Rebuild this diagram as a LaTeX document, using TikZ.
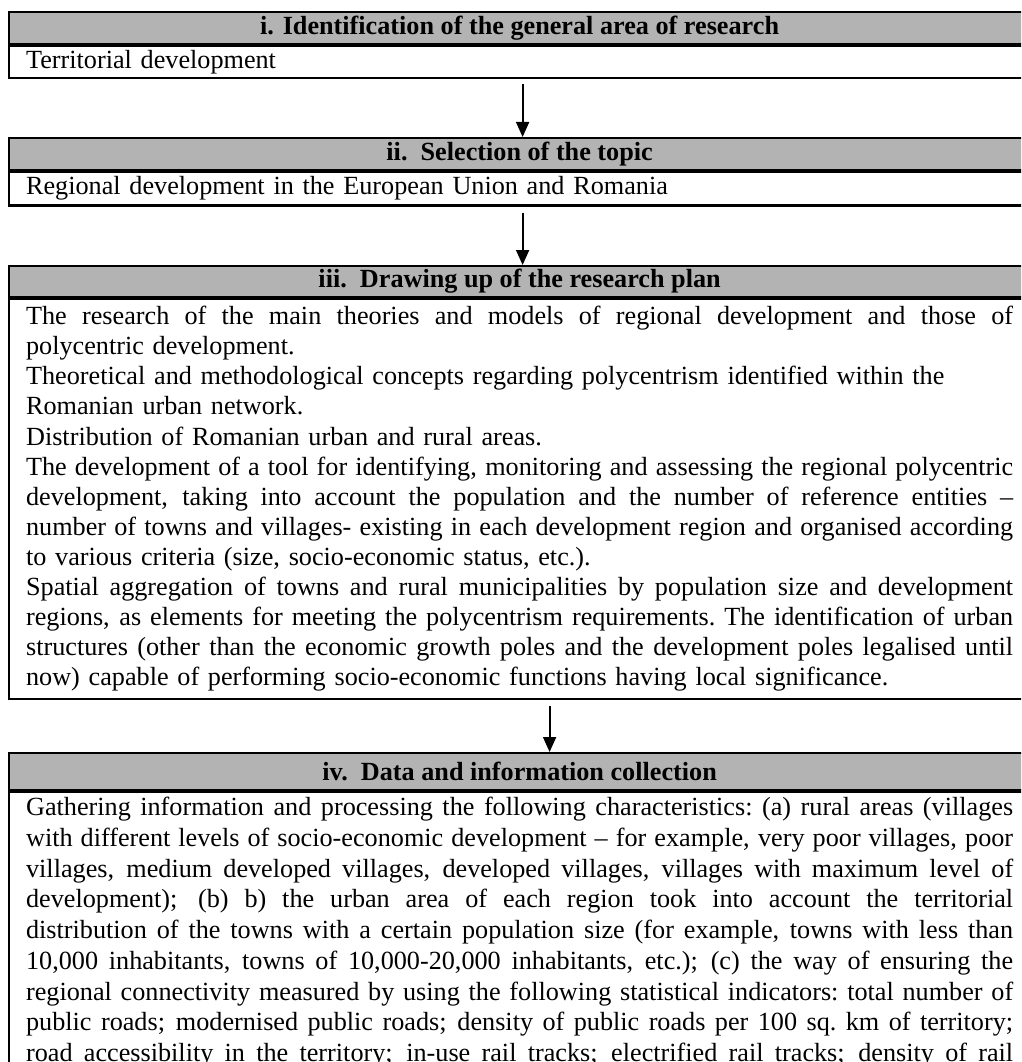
\documentclass[tikz,border=0pt]{standalone}
\usepackage{fontspec}
\setmainfont{Liberation Serif}
\usetikzlibrary{arrows.meta}
\definecolor{hdrgray}{RGB}{179,179,179}
\newcommand{\bodyfont}{\fontsize{26.2}{30.1}\selectfont}
\newcommand{\bodyfontiv}{\fontsize{26.2}{30.7}\selectfont}
\newcommand{\J}[1]{\leavevmode\hbox to 987pt{\spaceskip=0.25em plus 1em minus 0.1em\xspaceskip=0.25em plus 1em minus 0.1em\relax\strut #1}}
\begin{document}
\begin{tikzpicture}[x=1pt,y=-1pt,
  frame/.style={draw=black, line width=2.2pt},
  hdr/.style={frame, fill=hdrgray, anchor=north west, minimum width=1021pt, inner sep=0pt, font=\bfseries\fontsize{26.2}{30.1}\selectfont},
  bodybox/.style={frame, anchor=north west, text width=987pt, inner xsep=17pt, align=left, font=\bodyfont},
  arr/.style={line width=1.8pt, -{Triangle[length=15pt,width=13pt]}}]
\useasboundingbox (0,0) rectangle (1021,1062);
\clip (0,0) rectangle (1021,1062);
\fill[white] (0,0) rectangle (1021,1062);

% box i
\node[hdr, minimum height=32pt] (h1) at (8,11) {i. Identification of the general area of research};
\node[bodybox, inner ysep=1pt] (b1) at (h1.south west) {\strut Territorial development};

% box ii
\node[hdr, minimum height=32pt] (h2) at (8,137) {ii.\ \ Selection of the topic};
\node[bodybox, inner ysep=1.5pt] (b2) at (h2.south west) {\strut Regional development in the European Union and Romania};

% box iii
\node[hdr, minimum height=31pt] (h3) at (8,265) {iii.\ \ Drawing up of the research plan};
\node[bodybox, inner ysep=4.3pt] (b3) at (h3.south west) {%
\J{The research of the main theories and models of regional development and those of}\\
\strut polycentric development.\\
\strut Theoretical and methodological concepts regarding polycentrism identified within the\\
\strut Romanian urban network.\\
\strut Distribution of Romanian urban and rural areas.\\
\J{The development of a tool for identifying, monitoring and assessing the regional polycentric}\\
\J{development, taking into account the population and the number of reference entities –}\\
\J{number of towns and villages- existing in each development region and organised according}\\
\strut to various criteria (size, socio-economic status, etc.).\\
\J{Spatial aggregation of towns and rural municipalities by population size and development}\\
\J{regions, as elements for meeting the polycentrism requirements. The identification of urban}\\
\J{structures (other than the economic growth poles and the development poles legalised until}\\
\strut now) capable of performing socio-economic functions having local significance.};

% box iv
\node[hdr, minimum height=37pt] (h4) at (8,752) {iv.\ \ Data and information collection};
\node[bodybox, inner ysep=2pt, font=\bodyfontiv] (b4) at (h4.south west) {%
\J{Gathering information and processing the following characteristics: (a) rural areas (villages}\\
\J{with different levels of socio-economic development – for example, very poor villages, poor}\\
\J{villages, medium developed villages, developed villages, villages with maximum level of}\\
\J{development); (b) b) the urban area of each region took into account the territorial}\\
\J{distribution of the towns with a certain population size (for example, towns with less than}\\
\J{10,000 inhabitants, towns of 10,000-20,000 inhabitants, etc.); (c) the way of ensuring the}\\
\J{regional connectivity measured by using the following statistical indicators: total number of}\\
\J{public roads; modernised public roads; density of public roads per 100 sq. km of territory;}\\
\J{road accessibility in the territory; in-use rail tracks; electrified rail tracks; density of rail}\rule[-40pt]{0pt}{40pt}};

% arrows
\draw[arr] ([xshift=3pt,yshift=-5pt]b1.south) -- ([xshift=3pt]h2.north);
\draw[arr] ([xshift=3pt,yshift=-6pt]b2.south) -- ([xshift=3pt]h3.north);
\draw[arr] ([xshift=30pt,yshift=-6pt]b3.south) -- ([xshift=30pt]h4.north);
\end{tikzpicture}
\end{document}
